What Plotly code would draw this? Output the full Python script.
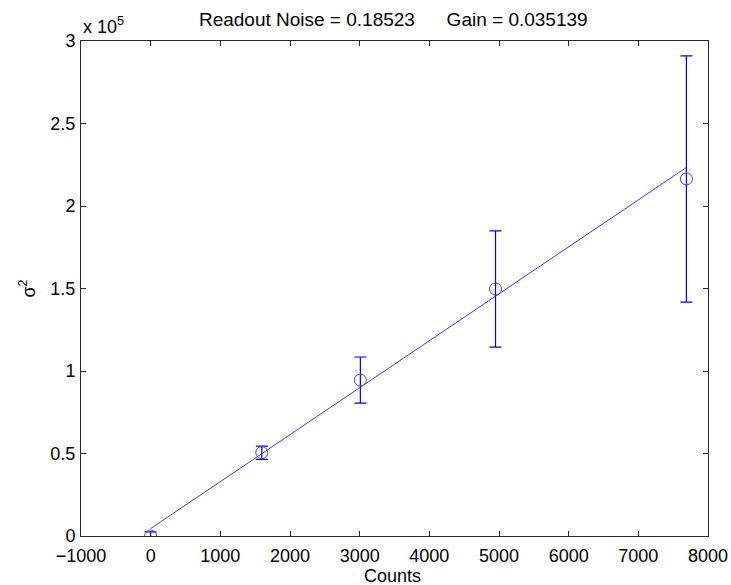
import plotly.graph_objects as go

# Photon-transfer measurements: mean counts vs. variance
counts = [0, 1595, 3010, 4950, 7690]
variance = [0, 50500, 94500, 149700, 216400]
variance_err = [2500, 4000, 14000, 35200, 74600]

# Linear fit parameters (slope = 1/gain)
gain = 0.035139
readout_noise = 0.18523
fit_intercept = 4500
fit_x = [0, 7690]
fit_y = [fit_intercept + x / gain for x in fit_x]

x_ticks = [-1000, 0, 1000, 2000, 3000, 4000, 5000, 6000, 7000, 8000]
y_ticks = [0, 50000, 100000, 150000, 200000, 250000, 300000]
y_tick_text = ["0", "0.5", "1", "1.5", "2", "2.5", "3"]

blue = "rgb(0,0,255)"
font = "Liberation Sans, Arial, sans-serif"

fig = go.Figure()
fig.add_trace(go.Scatter(
    x=fit_x, y=fit_y, mode="lines",
    line=dict(color="rgb(60,60,255)", width=1),
    showlegend=False, hoverinfo="skip",
))
fig.add_trace(go.Scatter(
    x=counts, y=variance, mode="markers",
    marker=dict(symbol="circle-open", size=12, color="rgb(70,70,255)",
                line=dict(width=1, color="rgb(70,70,255)")),
    error_y=dict(type="data", array=variance_err, symmetric=True,
                 color=blue, thickness=1.2, width=6),
    showlegend=False,
))

axis_common = dict(
    showline=True, linecolor="rgb(40,40,40)", linewidth=1, mirror="ticks",
    ticks="inside", ticklen=5, tickcolor="rgb(40,40,40)", tickwidth=1,
    showgrid=False, zeroline=False, automargin=False,
    tickfont=dict(family=font, size=18, color="black"),
)

fig.update_layout(
    width=731, height=585,
    margin=dict(l=81, r=23, t=41, b=49, autoexpand=False),
    paper_bgcolor="white", plot_bgcolor="white",
    font=dict(family=font, color="black"),
    title=dict(
        text=f"Readout Noise = {readout_noise}" + "\u00a0" * 6 + f"Gain = {gain}",
        x=0.538, xanchor="center", y=0.9675, yanchor="middle",
        font=dict(family=font, size=19, color="black"),
    ),
    xaxis=dict(range=[-1000, 8000], tickvals=x_ticks, ticklabelstandoff=3,
               **axis_common),
    yaxis=dict(range=[0, 300000], tickvals=y_ticks, ticktext=y_tick_text,
               ticklabelstandoff=1, **axis_common),
    annotations=[
        dict(text="x 10<sup>5</sup>", xref="paper", yref="paper",
             x=0.0, y=1.0, xanchor="left", yanchor="bottom", yshift=2,
             showarrow=False, font=dict(family=font, size=18, color="black")),
        dict(text="Counts", xref="paper", yref="paper",
             x=0.497, y=0.0, xanchor="center", yanchor="middle", yshift=-40,
             showarrow=False, font=dict(family=font, size=18, color="black")),
        dict(text="σ<sup>2</sup>", xref="paper", yref="paper", textangle=-90,
             x=0.0, y=0.5, xanchor="center", yanchor="middle", xshift=-53,
             showarrow=False, font=dict(family=font, size=18, color="black")),
    ],
)

fig.write_html("out.html")
